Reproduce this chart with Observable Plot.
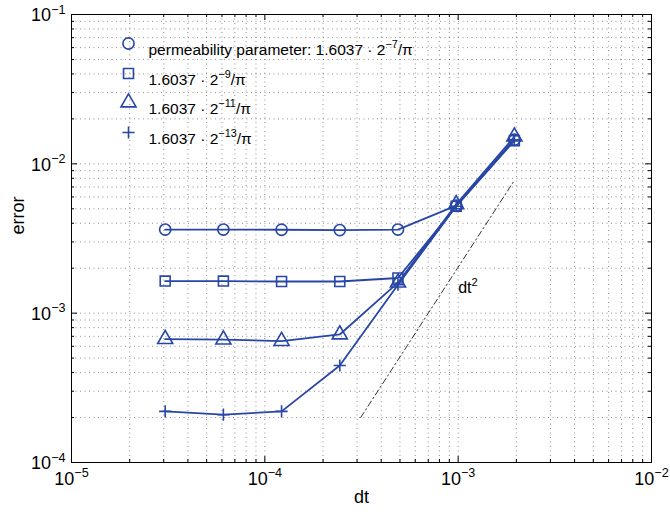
<!DOCTYPE html>
<html>
<head>
<meta charset="utf-8">
<script src="https://cdn.jsdelivr.net/npm/d3@7"></script>
<script src="https://cdn.jsdelivr.net/npm/@observablehq/plot@0.6"></script>
<style>
  html, body { margin: 0; padding: 0; background: #fff; }
  svg { font-family: "Liberation Sans", Arial, Helvetica, sans-serif; }
</style>
</head>
<body>
<div id="chart"></div>
<script>
// ---- data ----
const dt = [3.0518e-5, 6.1035e-5, 1.2207e-4, 2.4414e-4, 4.8828e-4, 9.7656e-4, 1.9531e-3];
const errP7  = [3.63e-3, 3.63e-3, 3.62e-3, 3.60e-3, 3.63e-3, 5.25e-3, 1.45e-2];
const errP9  = [1.64e-3, 1.64e-3, 1.63e-3, 1.63e-3, 1.72e-3, 5.20e-3, 1.43e-2];
const errP11 = [6.70e-4, 6.65e-4, 6.50e-4, 7.20e-4, 1.60e-3, 5.35e-3, 1.52e-2];
const errP13 = [2.20e-4, 2.09e-4, 2.20e-4, 4.46e-4, 1.55e-3, 5.20e-3, 1.45e-2];
const seriesLabels = [
  "permeability parameter: 1.6037 · 2^{−7}/π",
  "1.6037 · 2^{−9}/π",
  "1.6037 · 2^{−11}/π",
  "1.6037 · 2^{−13}/π"
];
const seriesSymbols = ["circle", "square", "triangle", "plus"];
const seriesR = [5.6, 5.6, 5.6, 4.0];
const refX = [3.13e-4, 1.96e-3];
const refY = [2.0e-4, 7.8e-3];
const refLabel = {x: 1.0e-3, y: 1.35e-3, text: "dt^{2}"};
const xTicks = [1e-5, 1e-4, 1e-3, 1e-2];
const xTickLabels = ["10^{−5}", "10^{−4}", "10^{−3}", "10^{−2}"];
const yTicks = [1e-4, 1e-3, 1e-2, 1e-1];
const yTickLabels = ["10^{−4}", "10^{−3}", "10^{−2}", "10^{−1}"];

// ---- layout ----
const W = 670, H = 514;
const mL = 71, mR = 19, mT = 14, mB = 52;
const pw = W - mL - mR, ph = H - mT - mB;
const color = "#2846a6";

const minorOf = (ticks) => ticks.slice(0, -1).flatMap(t => d3.range(2, 10).map(k => k * t));
const xMinor = minorOf(xTicks);
const yMinor = minorOf(yTicks);
const xGrid = [...xMinor, ...xTicks.slice(1, -1)];
const yGrid = [...yMinor, ...yTicks.slice(1, -1)];

const allSeries = [errP7, errP9, errP11, errP13];
const rows = allSeries.flatMap((s, i) => s.map((v, j) => ({x: dt[j], y: v, s: i})));
const refRows = refX.map((x, i) => ({x, y: refY[i]}));

const gridStyle = {stroke: "#444", strokeOpacity: 0.75, strokeWidth: 0.8, strokeDasharray: "1,3.5"};

const marks = [
  // grid
  Plot.ruleX(xGrid, {x: d => d, ...gridStyle}),
  Plot.ruleY(yGrid, {y: d => d, ...gridStyle}),
  // ticks inside (major/minor) on four sides
  Plot.ruleX(xTicks, {x: d => d, insetTop: ph - 6, stroke: "black"}),
  Plot.ruleX(xTicks, {x: d => d, insetBottom: ph - 6, stroke: "black"}),
  Plot.ruleX(xMinor, {x: d => d, insetTop: ph - 3, stroke: "black"}),
  Plot.ruleX(xMinor, {x: d => d, insetBottom: ph - 3, stroke: "black"}),
  Plot.ruleY(yTicks, {y: d => d, insetRight: pw - 6, stroke: "black"}),
  Plot.ruleY(yTicks, {y: d => d, insetLeft: pw - 6, stroke: "black"}),
  Plot.ruleY(yMinor, {y: d => d, insetRight: pw - 3, stroke: "black"}),
  Plot.ruleY(yMinor, {y: d => d, insetLeft: pw - 3, stroke: "black"}),
  Plot.frame({stroke: "black", strokeWidth: 1}),
  // tick labels
  Plot.text(xTicks, {x: d => d, text: (d, i) => xTickLabels[i], frameAnchor: "bottom", dy: 22, fontSize: 18, fill: "black"}),
  Plot.text(yTicks, {y: d => d, text: (d, i) => yTickLabels[i], frameAnchor: "left", dx: -6, dy: 1, textAnchor: "end", fontSize: 18, fill: "black"}),
  // axis labels
  Plot.text(["dt"], {frameAnchor: "bottom", dy: 40, fontSize: 18, fill: "black"}),
  Plot.text(["error"], {frameAnchor: "left", dx: -53, dy: -4, rotate: -90, fontSize: 18, fill: "black"}),
  // reference dt^2 line
  Plot.line(refRows, {x: "x", y: "y", stroke: "black", strokeWidth: 0.8, strokeDasharray: "6,3,1.5,3"}),
  Plot.text([refLabel], {x: "x", y: "y", text: "text", textAnchor: "start", fontSize: 16, fill: "black", dy: -6}),
];

// series
allSeries.forEach((s, i) => {
  const data = rows.filter(r => r.s === i);
  marks.push(Plot.line(data, {x: "x", y: "y", stroke: color, strokeWidth: 1.8}));
  marks.push(Plot.dot(data, {x: "x", y: "y", symbol: () => seriesSymbols[i], r: seriesR[i], stroke: color, strokeWidth: 1.6, fill: "none"}));
});

// legend
const legendDy = [29, 59, 88, 118];
seriesLabels.forEach((lab, i) => {
  marks.push(Plot.dot([lab], {frameAnchor: "top-left", dx: 57, dy: legendDy[i], symbol: () => seriesSymbols[i], r: seriesR[i], stroke: color, strokeWidth: 1.6, fill: "none"}));
  marks.push(Plot.text([lab], {frameAnchor: "top-left", dx: 77, dy: legendDy[i], text: d => d, textAnchor: "start", fontSize: 15.5, fill: "black"}));
});

const svg = Plot.plot({
  width: W, height: H,
  marginLeft: mL, marginRight: mR, marginTop: mT, marginBottom: mB,
  x: {type: "log", domain: [1e-5, 1e-2], axis: null},
  y: {type: "log", domain: [1e-4, 1e-1], axis: null},
  symbol: {type: "identity"},
  style: {fontFamily: "'Liberation Sans', Arial, Helvetica, sans-serif", background: "white", overflow: "visible"},
  marks
});
document.getElementById("chart").appendChild(svg);

// superscript rendering for "^{...}" in text
const ns = "http://www.w3.org/2000/svg";
svg.querySelectorAll("text").forEach(t => {
  const s = t.textContent;
  if (!s.includes("^{")) return;
  const fs = parseFloat(getComputedStyle(t).fontSize) || 16;
  const shift = fs * 0.42;
  t.textContent = "";
  const re = /\^\{([^}]*)\}/g;
  let last = 0, m, pending = 0;
  const add = (txt, attrs) => {
    const el = document.createElementNS(ns, "tspan");
    for (const k in attrs) el.setAttribute(k, attrs[k]);
    el.textContent = txt;
    t.appendChild(el);
  };
  while ((m = re.exec(s))) {
    if (m.index > last) { add(s.slice(last, m.index), pending ? {dy: pending} : {}); pending = 0; }
    add(m[1], {dy: -shift + pending, "font-size": (fs * 0.7) + "px"});
    pending = shift;
    last = re.lastIndex;
  }
  if (last < s.length) add(s.slice(last), pending ? {dy: pending} : {});
});
</script>
</body>
</html>
